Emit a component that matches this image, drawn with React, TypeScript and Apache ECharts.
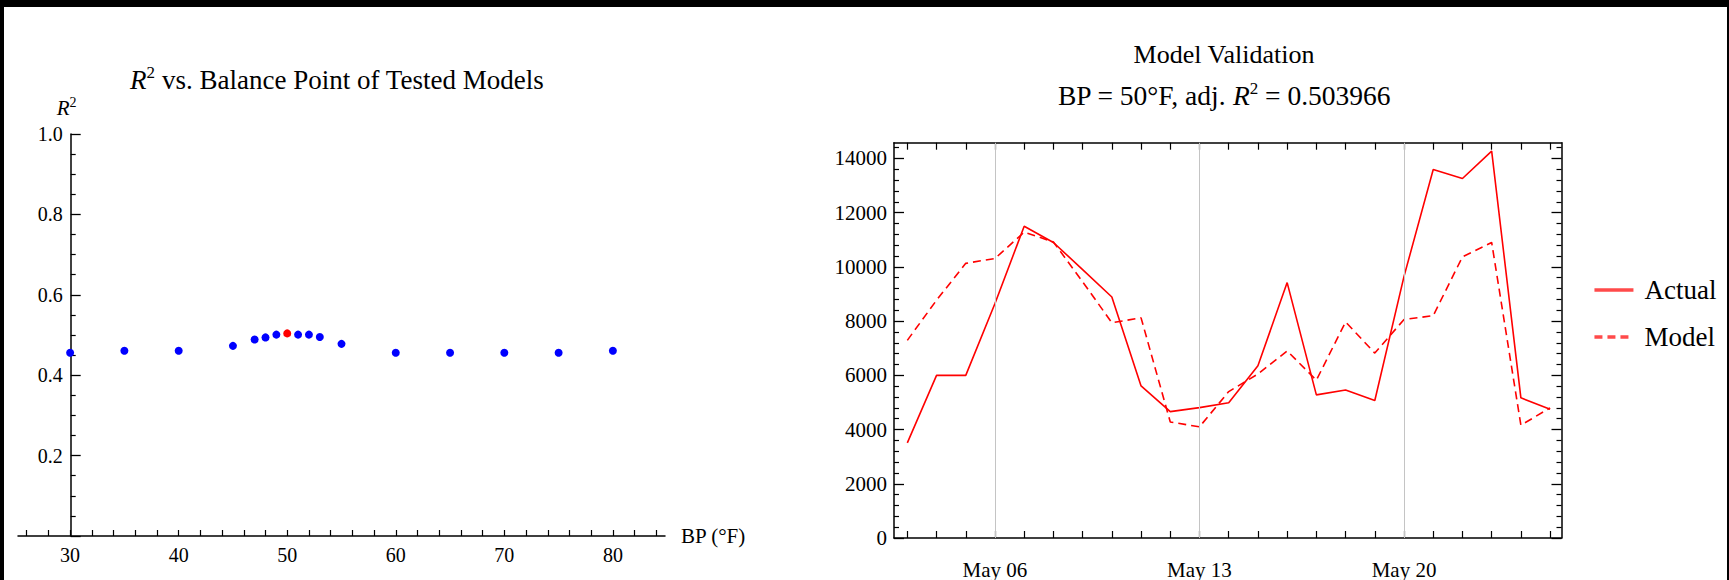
import React, { useEffect, useRef } from "react";
import * as echarts from "echarts";

// ---------- Left chart data: R^2 vs balance point ----------
const bpValues = [30, 35, 40, 45, 47, 48, 49, 50, 51, 52, 53, 55, 60, 65, 70, 75, 80];
const r2Values = [0.456, 0.461, 0.461, 0.473, 0.489, 0.494, 0.501, 0.503966, 0.501, 0.501, 0.495, 0.478, 0.456, 0.456, 0.456, 0.456, 0.461];
const bestBP = 50;
const bestAdjR2 = 0.503966;
const bpTickLabels = [30, 40, 50, 60, 70, 80];
const r2TickLabels = [0.2, 0.4, 0.6, 0.8, 1.0];

// ---------- Right chart data: model validation (May days) ----------
const mayDays = [3, 4, 5, 6, 7, 8, 9, 10, 11, 12, 13, 14, 15, 16, 17, 18, 19, 20, 21, 22, 23, 24, 25];
const actualLoad = [3510, 6000, 6000, 8650, 11500, 10900, 9900, 8890, 5610, 4660, 4810, 4990, 6350, 9420, 5280, 5460, 5070, 9650, 13590, 13260, 14270, 5170, 4750];
const modelLoad = [7290, 8770, 10130, 10310, 11280, 10920, 9450, 7940, 8120, 4280, 4100, 5400, 6050, 6900, 5820, 7970, 6820, 8060, 8200, 10370, 10900, 4160, 4800];
const labeledDays = [6, 13, 20];
const loadTickLabels = [0, 2000, 4000, 6000, 8000, 10000, 12000, 14000];

const FONT = '"Liberation Serif", "DejaVu Serif", serif';

function steps(a: number, b: number, step: number): number[] {
  const out: number[] = [];
  for (let v = a; v <= b + 1e-9; v += step) out.push(Math.round(v * 1000) / 1000);
  return out;
}

const bpMinorTicks = steps(26, 84, 2);
const loadMinorTicks = steps(400, 14400, 400).filter((v) => v % 2000 !== 0);

const pad2 = (n: number) => (n < 10 ? "0" + n : "" + n);

const blackLine = { show: true, lineStyle: { color: "#000", width: 1.5 } };
const labelStyle = { color: "#000", fontFamily: FONT, fontSize: 20 };
const labelStyleR = { color: "#000", fontFamily: FONT, fontSize: 21 };

function buildOption(): any {
  const rich = (size: number) => ({
    i: { fontStyle: "italic", fontFamily: FONT, fontSize: size, color: "#000" },
    s: { fontFamily: FONT, fontSize: Math.round(size * 0.62), color: "#000", padding: [0, 0, Math.round(size * 0.5), 0] },
  });
  const rX = { min: 2.544, max: 25.39 };
  const rY = { min: 0, max: 14580 };
  return {
    animation: false,
    backgroundColor: "#ffffff",
    title: [
      {
        text: "{i|R}{s|2} vs. Balance Point of Tested Models",
        left: 337,
        top: 64,
        padding: 0,
        textAlign: "center",
        textStyle: { fontFamily: FONT, fontSize: 27, fontWeight: "normal", color: "#000", rich: rich(27) },
      },
      {
        text: "Model Validation",
        left: 1224,
        top: 41,
        padding: 0,
        textAlign: "center",
        textStyle: { fontFamily: FONT, fontSize: 26, fontWeight: "normal", color: "#000" },
      },
      {
        text: `BP = ${bestBP}°F, adj. {i|R}{s|2} = ${bestAdjR2}`,
        left: 1224,
        top: 80,
        padding: 0,
        textAlign: "center",
        textStyle: { fontFamily: FONT, fontSize: 27.5, fontWeight: "normal", color: "#000", rich: rich(27.5) },
      },
    ],
    legend: {
      data: ["Actual", "Model"],
      orient: "vertical",
      left: 1587.7,
      top: 271.5,
      itemWidth: 39,
      itemHeight: 27,
      itemGap: 20,
      selectedMode: false,
      itemStyle: { opacity: 0 },
      lineStyle: { width: 3.5, color: "#ff4a4a" },
      textStyle: { fontFamily: FONT, fontSize: 27, color: "#000", padding: [0, 0, 0, 6] },
    },
    grid: [
      { left: 18, top: 134, width: 647, height: 402 },
      { left: 894, top: 142.7, width: 667.5, height: 411.3 },
    ],
    xAxis: [
      {
        type: "value",
        gridIndex: 0,
        min: 25.2,
        max: 84.8,
        axisLine: { ...blackLine, onZero: false },
        axisTick: { show: true, inside: true, length: 6, customValues: bpMinorTicks, lineStyle: { color: "#000", width: 1.2 } },
        axisLabel: { ...labelStyle, customValues: bpTickLabels, margin: 8.5 },
        splitLine: { show: false },
        name: "BP (°F)",
        nameLocation: "end",
        nameGap: 16,
        nameTextStyle: { ...labelStyleR, verticalAlign: "middle" },
      },
      {
        type: "value",
        gridIndex: 1,
        position: "bottom",
        ...rX,
        axisLine: { ...blackLine, onZero: false },
        axisTick: { show: true, inside: true, length: 7, customValues: mayDays, lineStyle: { color: "#000", width: 1.2 } },
        axisLabel: {
          ...labelStyleR,
          customValues: labeledDays,
          margin: 21,
          formatter: (v: number) => "May " + pad2(Math.round(v)),
        },
        splitLine: { show: false },
      },
      {
        type: "value",
        gridIndex: 1,
        position: "top",
        ...rX,
        axisLine: { ...blackLine, onZero: false },
        axisTick: { show: true, inside: true, length: 7, customValues: mayDays, lineStyle: { color: "#000", width: 1.2 } },
        axisLabel: { show: false },
        splitLine: { show: false },
      },
    ],
    yAxis: [
      {
        type: "value",
        gridIndex: 0,
        min: 0,
        max: 1,
        interval: 0.2,
        offset: -52.7,
        axisLine: { ...blackLine, onZero: false },
        axisTick: { show: true, inside: true, length: 10, lineStyle: { color: "#000", width: 1.3 } },
        minorTick: { show: true, splitNumber: 4, length: 5, lineStyle: { color: "#000", width: 1.2 } },
        axisLabel: {
          ...labelStyle,
          margin: 8,
          customValues: r2TickLabels,
          formatter: (v: number) => v.toFixed(1),
        },
        splitLine: { show: false },
        name: "{i|R}{s|2}",
        nameLocation: "end",
        nameGap: 14,
        nameTextStyle: {
          padding: [0, 8, 0, 0],
          rich: {
            i: { fontStyle: "italic", fontFamily: FONT, fontSize: 21, color: "#000" },
            s: { fontFamily: FONT, fontSize: 14, color: "#000", padding: [0, 0, 11, 0] },
          },
        },
      },
      {
        type: "value",
        gridIndex: 1,
        position: "left",
        ...rY,
        axisLine: { ...blackLine, onZero: false },
        axisTick: { show: true, inside: true, length: 10, customValues: loadTickLabels, lineStyle: { color: "#000", width: 1.3 } },
        axisLabel: { ...labelStyleR, customValues: loadTickLabels, margin: 7, formatter: (v: number) => String(v) },
        splitLine: { show: false },
      },
      {
        type: "value",
        gridIndex: 1,
        position: "left",
        ...rY,
        axisLine: { show: false },
        axisTick: { show: true, inside: true, length: 5, customValues: loadMinorTicks, lineStyle: { color: "#000", width: 1.2 } },
        axisLabel: { show: false },
        splitLine: { show: false },
      },
      {
        type: "value",
        gridIndex: 1,
        position: "right",
        ...rY,
        axisLine: { ...blackLine, onZero: false },
        axisTick: { show: true, inside: true, length: 10, customValues: loadTickLabels, lineStyle: { color: "#000", width: 1.3 } },
        axisLabel: { show: false },
        splitLine: { show: false },
      },
      {
        type: "value",
        gridIndex: 1,
        position: "right",
        ...rY,
        axisLine: { show: false },
        axisTick: { show: true, inside: true, length: 5, customValues: loadMinorTicks, lineStyle: { color: "#000", width: 1.2 } },
        axisLabel: { show: false },
        splitLine: { show: false },
      },
    ],
    series: [
      {
        type: "scatter",
        name: "R2",
        xAxisIndex: 0,
        yAxisIndex: 0,
        symbol: "circle",
        symbolSize: 8,
        itemStyle: { opacity: 1 },
        data: bpValues.map((x, i) => ({
          value: [x, r2Values[i]],
          itemStyle: { color: x === bestBP ? "#ff0000" : "#0000ff", opacity: 1 },
        })),
      },
      {
        type: "line",
        name: "Actual",
        xAxisIndex: 1,
        yAxisIndex: 1,
        symbol: "none",
        showSymbol: false,
        lineStyle: { color: "#ff0000", width: 1.6 },
        itemStyle: { color: "#ff0000" },
        data: mayDays.map((d, i) => [d, actualLoad[i]]),
        markLine: {
          silent: true,
          symbol: ["none", "none"],
          label: { show: false },
          lineStyle: { color: "#c4c4c4", type: "solid", width: 1 },
          data: labeledDays.map((d) => ({ xAxis: d })),
        },
      },
      {
        type: "line",
        name: "Model",
        xAxisIndex: 1,
        yAxisIndex: 1,
        symbol: "none",
        showSymbol: false,
        lineStyle: { color: "#ff0000", width: 1.6, type: [8, 5] },
        itemStyle: { color: "#ff0000" },
        data: mayDays.map((d, i) => [d, modelLoad[i]]),
      },
    ],
    graphic: [
      { type: "rect", left: 0, top: 0, shape: { width: 1729, height: 7 }, style: { fill: "#000" } },
      { type: "rect", left: 0, top: 0, shape: { width: 4, height: 580 }, style: { fill: "#000" } },
      { type: "rect", left: 1727, top: 0, shape: { width: 2, height: 580 }, style: { fill: "#000" } },
    ],
  };
}

export default function App() {
  const ref = useRef<HTMLDivElement>(null);
  useEffect(() => {
    if (!ref.current) return;
    const chart = echarts.init(ref.current, null, { renderer: "svg" });
    chart.setOption(buildOption());
    return () => chart.dispose();
  }, []);
  return (
    <div
      ref={ref}
      style={{ position: "fixed", left: 0, top: 0, width: 1729, height: 580, background: "#fff" }}
    />
  );
}
